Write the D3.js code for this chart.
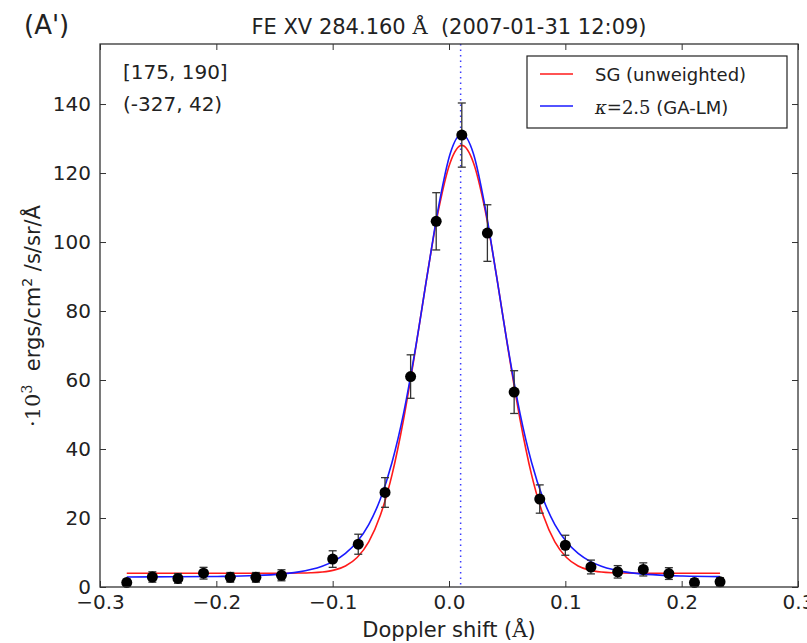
<!DOCTYPE html>
<html>
<head>
  <script src="https://cdn.jsdelivr.net/npm/d3@7"></script>
  <style>
    body { margin: 0; background: #fff; }
    text { font-family: "DejaVu Sans", sans-serif; fill: #222; }
    .axis text { font-size: 20px; }
    .axis path, .axis line { stroke: #333; }
  </style>
</head>
<body>
  <svg id="chart" width="807" height="643"></svg>
  <script>
    // measured points (Doppler shift in Å, intensity in 10^3 ergs/cm2/s/sr/Å)
    var shifts = [-0.277, -0.255, -0.233, -0.211, -0.188, -0.166, -0.144,
      -0.100, -0.078, -0.055, -0.033, -0.011, 0.011, 0.033, 0.056, 0.078,
      0.100, 0.122, 0.145, 0.167, 0.189, 0.211, 0.233];
    var intensity = [1.3, 2.9, 2.5, 4.0, 2.8, 2.8, 3.4,
      8.1, 12.4, 27.4, 61.0, 106.0, 131.0, 102.6, 56.5, 25.5,
      12.1, 5.8, 4.4, 5.1, 3.9, 1.3, 1.5];
    var errors = [1.0, 1.5, 1.4, 1.7, 1.4, 1.4, 1.6,
      2.4, 2.9, 4.3, 6.3, 8.3, 9.3, 8.2, 6.2, 4.1,
      2.9, 2.0, 1.8, 1.9, 1.7, 1.1, 1.2];

    // fitted profiles, sampled off the plot
    var fitX = [-0.277, -0.239, -0.199, -0.159, -0.139, -0.129, -0.119, -0.109,
      -0.099, -0.089, -0.079, -0.069, -0.059, -0.049, -0.039, -0.029, -0.019,
      -0.009, 0.001, 0.011, 0.021, 0.031, 0.041, 0.051, 0.061, 0.071, 0.081,
      0.091, 0.101, 0.111, 0.121, 0.131, 0.141, 0.151, 0.161, 0.181, 0.201, 0.233];
    var sgFit = [4.0, 4.0, 4.0, 4.0, 4.0, 4.04, 4.13, 4.35,
      4.89, 6.09, 8.55, 13.1, 20.8, 32.5, 48.7, 68.5, 89.9,
      109.3, 123.0, 128.0, 123.0, 109.3, 89.9, 68.5, 48.7, 32.5, 20.8,
      13.1, 8.55, 6.09, 4.89, 4.35, 4.13, 4.04, 4.0, 4.0, 4.0, 4.0];
    var kappaFit = [2.92, 2.95, 3.06, 3.43, 3.95, 4.39, 5.05, 6.03,
      7.51, 9.73, 13.1, 18.1, 25.5, 36.1, 50.4, 68.8, 89.8,
      110.2, 125.6, 131.3, 125.6, 110.2, 89.8, 68.8, 50.4, 36.1, 25.5,
      18.1, 13.1, 9.73, 7.51, 6.03, 5.05, 4.39, 3.95, 3.43, 3.18, 3.02];

    var lineCenter = 0.010;
    var xTicks = [-0.3, -0.2, -0.1, 0.0, 0.1, 0.2, 0.3];
    var yTicks = [0, 20, 40, 60, 80, 100, 120, 140];
    var legendLabels = ['SG (unweighted)', 'κ=2.5 (GA-LM)'];

    var margin = { top: 44, right: 9, bottom: 56, left: 100 };
    var width = 807 - margin.left - margin.right;
    var height = 643 - margin.top - margin.bottom;

    var svg = d3.select('#chart');
    var g = svg.append('g')
      .attr('transform', 'translate(' + margin.left + ',' + margin.top + ')');

    var x = d3.scaleLinear().domain([-0.3, 0.3]).range([0, width]);
    var y = d3.scaleLinear().domain([0, 157.4]).range([height, 0]);

    // axes, ticks pointing inward on all four sides
    var fmtX = d3.format('.1f');
    g.append('g').attr('class', 'axis')
      .attr('transform', 'translate(0,' + height + ')')
      .call(d3.axisBottom(x).tickValues(xTicks).tickFormat(fmtX)
        .tickSizeInner(-6).tickSizeOuter(0).tickPadding(8));
    g.append('g').attr('class', 'axis')
      .call(d3.axisTop(x).tickValues(xTicks).tickFormat('')
        .tickSizeInner(-6).tickSizeOuter(0));
    g.append('g').attr('class', 'axis')
      .call(d3.axisLeft(y).tickValues(yTicks)
        .tickSizeInner(-6).tickSizeOuter(0).tickPadding(9));
    g.append('g').attr('class', 'axis')
      .attr('transform', 'translate(' + width + ',0)')
      .call(d3.axisRight(y).tickValues(yTicks).tickFormat('')
        .tickSizeInner(-6).tickSizeOuter(0));
    g.selectAll('.axis .domain').remove();

    // dotted line at fitted centre
    g.append('line')
      .attr('x1', x(lineCenter)).attr('x2', x(lineCenter))
      .attr('y1', 0).attr('y2', height)
      .attr('stroke', '#3b3bff')
      .attr('stroke-width', 1.5)
      .attr('stroke-dasharray', '1.5,4');

    var line = d3.line()
      .x(function (d) { return x(d[0]); })
      .y(function (d) { return y(d[1]); })
      .curve(d3.curveMonotoneX);

    g.append('path')
      .datum(d3.zip(fitX, sgFit))
      .attr('d', line)
      .attr('fill', 'none')
      .attr('stroke', '#ff1a1a')
      .attr('stroke-width', 1.6);
    g.append('path')
      .datum(d3.zip(fitX, kappaFit))
      .attr('d', line)
      .attr('fill', 'none')
      .attr('stroke', '#1a1aff')
      .attr('stroke-width', 1.6);

    // error bars + points
    var pts = shifts.map(function (s, i) {
      return { x: s, y: intensity[i], e: errors[i] };
    });
    var eb = g.append('g').attr('stroke', '#333').attr('stroke-width', 1.3);
    eb.selectAll('line.v').data(pts).enter().append('line')
      .attr('x1', function (d) { return x(d.x); })
      .attr('x2', function (d) { return x(d.x); })
      .attr('y1', function (d) { return y(d.y - d.e); })
      .attr('y2', function (d) { return y(d.y + d.e); });
    [-1, 1].forEach(function (sgn) {
      eb.selectAll('line.c' + sgn).data(pts).enter().append('line')
        .attr('x1', function (d) { return x(d.x) - 4; })
        .attr('x2', function (d) { return x(d.x) + 4; })
        .attr('y1', function (d) { return y(d.y + sgn * d.e); })
        .attr('y2', function (d) { return y(d.y + sgn * d.e); });
    });
    g.selectAll('circle').data(pts).enter().append('circle')
      .attr('cx', function (d) { return x(d.x); })
      .attr('cy', function (d) { return y(d.y); })
      .attr('r', 5.5)
      .attr('fill', '#000');

    // frame
    g.append('rect')
      .attr('width', width).attr('height', height)
      .attr('fill', 'none').attr('stroke', '#333').attr('stroke-width', 1.3);

    // legend
    var leg = g.append('g').attr('transform', 'translate(' + (527 - margin.left) + ',' + (56 - margin.top) + ')');
    leg.append('rect').attr('width', 260).attr('height', 72)
      .attr('fill', '#fff').attr('stroke', '#222').attr('stroke-width', 1.2);
    ['#ff1a1a', '#1a1aff'].forEach(function (c, i) {
      var ly = 18 + i * 32;
      leg.append('line').attr('x1', 13).attr('x2', 46).attr('y1', ly).attr('y2', ly)
        .attr('stroke', c).attr('stroke-width', 1.6);
    });
    leg.append('text').attr('x', 68).attr('y', 25).style('font-size', '18px').text(legendLabels[0]);
    var t2 = leg.append('text').attr('x', 68).attr('y', 58).style('font-size', '18px');
    t2.append('tspan').style('font-family', '"DejaVu Serif", serif').style('font-style', 'italic').text('κ');
    t2.append('tspan').style('font-family', '"DejaVu Serif", serif').text('=2.5');
    t2.append('tspan').text(' (GA-LM)');

    // annotations
    g.append('text').attr('x', 23).attr('y', 35).style('font-size', '20px').text('[175, 190]');
    g.append('text').attr('x', 23).attr('y', 67).style('font-size', '20px').text('(-327, 42)');

    // title
    var title = svg.append('text').attr('x', 449).attr('y', 34)
      .attr('text-anchor', 'middle').style('font-size', '21px');
    title.append('tspan').text('FE XV 284.160\u00a0');
    title.append('tspan').style('font-family', '"DejaVu Serif", serif').text('Å');
    title.append('tspan').text('\u00a0\u00a0(2007-01-31 12:09)');
    svg.append('text').attr('x', 24).attr('y', 34).style('font-size', '26px').text("(A')");

    // axis labels
    var xl = svg.append('text').attr('x', 449).attr('y', 637)
      .attr('text-anchor', 'middle').style('font-size', '21px');
    xl.append('tspan').text('Doppler shift (');
    xl.append('tspan').style('font-family', '"DejaVu Serif", serif').text('Å');
    xl.append('tspan').text(')');

    var yl = svg.append('text')
      .attr('transform', 'translate(40,316) rotate(-90)')
      .attr('text-anchor', 'middle').style('font-size', '21px');
    yl.append('tspan').style('font-family', '"DejaVu Serif", serif').text('·10');
    yl.append('tspan').style('font-family', '"DejaVu Serif", serif')
      .attr('dy', -8).style('font-size', '14px').text('3');
    yl.append('tspan').attr('dy', 8).text('\u00a0\u00a0ergs/cm');
    yl.append('tspan').attr('dy', -8).style('font-size', '14px').text('2');
    yl.append('tspan').attr('dy', 8).text('\u00a0/s/sr/Å');
  </script>
</body>
</html>
